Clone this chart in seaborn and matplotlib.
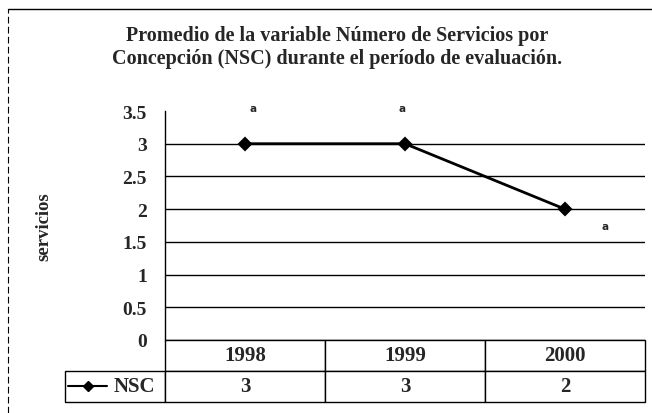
import matplotlib
matplotlib.use('Agg')
import matplotlib.pyplot as plt
from matplotlib.lines import Line2D
import seaborn as sns
import pandas as pd

# Données du graphique
years = ['1998', '1999', '2000']
nsc = [3, 3, 2]
letters = ['a', 'a', 'a']
letter_offsets = [(6, 26), (-2, 26), (29, -12)]  # décalage en points depuis chaque point
yticks = [0, 0.5, 1, 1.5, 2, 2.5, 3, 3.5]

df = pd.DataFrame({'year': years, 'NSC': nsc})

sns.set_style('white')
plt.rcParams['font.family'] = ['Liberation Serif', 'DejaVu Sans']
plt.rcParams['font.weight'] = 'bold'

fig = plt.figure(figsize=(6.52, 4.14), dpi=100)
ax = fig.add_axes([165 / 652, 1 - 341 / 414, 480 / 652, 229 / 414])

# Lignes de grille horizontales (sauf en haut)
ax.hlines(yticks[:-1], -0.5, 2.5, color='black', linewidth=1, zorder=1)

sns.pointplot(data=df, x='year', y='NSC', color='black', markers='D',
              linestyles='-', markersize=6, linewidth=2, ax=ax, zorder=3)

for i, (lab, off) in enumerate(zip(letters, letter_offsets)):
    ax.annotate(lab, (i, nsc[i]), xytext=off, textcoords='offset points',
                ha='center', va='center', fontsize=7.5, fontweight='bold',
                family='DejaVu Sans')

ax.set_xlim(-0.5, 2.5)
ax.set_ylim(0, 3.5)
ax.set_yticks(yticks)
ax.set_yticklabels([f'{t:g}' for t in yticks], fontsize=14, fontweight='bold')
ax.tick_params(axis='y', length=5, width=1, color='black', direction='out', pad=8)
ax.set_xticks([])
ax.set_xlabel('')
ax.set_ylabel('servicios', fontsize=13.5, fontweight='bold')
ax.yaxis.set_label_coords(-0.235, 0.5)
for side in ['top', 'right', 'bottom']:
    ax.spines[side].set_visible(False)
ax.spines['left'].set_color('black')
ax.spines['left'].set_linewidth(1)

# Tableau de données sous le graphique
lab_w = 100 / 480
tab_h = 62 / 229
table = ax.table(cellText=[[str(v) for v in nsc]], colLabels=years,
                 cellLoc='center', colWidths=[1 / 3] * 3,
                 bbox=[0, -tab_h, 1, tab_h])
table.add_cell(1, -1, width=lab_w, height=table[1, 0].get_height(),
               text='NSC', loc='right')
table.auto_set_font_size(False)
for (r, c), cell in table.get_celld().items():
    cell.set_edgecolor('black')
    cell.set_linewidth(1)
    cell.get_text().set_fontsize(15)
    cell.get_text().set_fontweight('bold')

# Symbole de légende dans la cellule NSC
leg_y = -(387 - 341) / 229
ax.add_line(Line2D([(68 - 165) / 480, (107 - 165) / 480], [leg_y, leg_y],
                   transform=ax.transAxes, color='black', linewidth=1.5,
                   clip_on=False))
ax.add_line(Line2D([(88 - 165) / 480], [leg_y], transform=ax.transAxes,
                   color='black', marker='D', markersize=5, clip_on=False))

fig.text(337 / 652, 1 - 47.5 / 414,
         'Promedio de la variable Número de Servicios por\n'
         'Concepción (NSC) durante el período de evaluación.',
         ha='center', va='center', fontsize=14.5, fontweight='bold',
         linespacing=1.22)

# Bordure du cadre
fig.add_artist(Line2D([8 / 652, 1], [1 - 10 / 414, 1 - 10 / 414],
                      transform=fig.transFigure, color='black', linewidth=1))
fig.add_artist(Line2D([8 / 652, 8 / 652], [0, 1 - 10 / 414],
                      transform=fig.transFigure, color='black', linewidth=0.8,
                      linestyle=(0, (6, 3))))

fig.savefig('out.png', dpi=100)
